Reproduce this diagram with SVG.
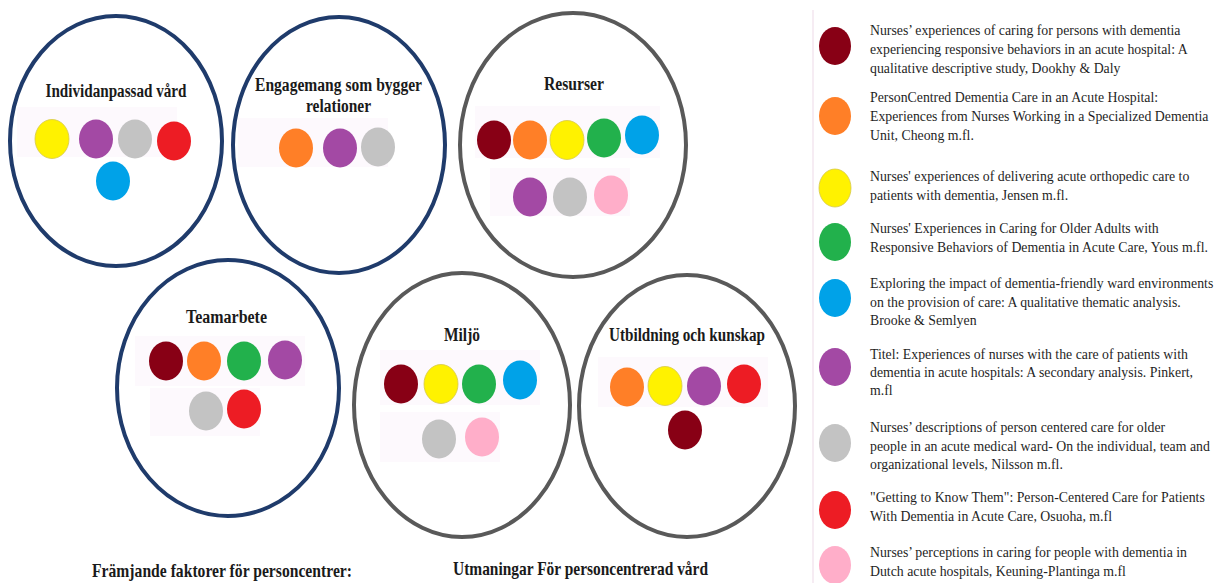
<svg xmlns="http://www.w3.org/2000/svg" width="1218" height="583" viewBox="0 0 1218 583">
  <style>
    .theme-blue { fill: #ffffff; stroke: #1f3b6b; stroke-width: 4; }
    .theme-gray { fill: #ffffff; stroke: #595959; stroke-width: 4; }
    .title { font-family: "Liberation Serif", "Times New Roman", serif; font-weight: bold; font-size: 18px; fill: #1a1a1a; text-anchor: middle; }
    .caption { font-family: "Liberation Serif", "Times New Roman", serif; font-weight: bold; font-size: 19px; fill: #1a1a1a; }
    .legend-text { font-family: "Liberation Serif", "Times New Roman", serif; font-size: 13.8px; fill: #1f1f1f; }
    .band { fill: #fdf9fd; }
    .c-darkred { fill: #880015; }
    .c-orange { fill: #ff7f27; }
    .c-yellow { fill: #fff200; stroke: #d6c84a; stroke-width: 0.8; }
    .c-green { fill: #22b14c; }
    .c-blue { fill: #00a2e8; }
    .c-purple { fill: #a349a4; }
    .c-gray { fill: #c3c3c3; }
    .c-red { fill: #ed1c24; }
    .c-pink { fill: #ffaec9; }
  </style>

  <rect x="0" y="0" width="1218" height="583" fill="#ffffff"/>

  <!-- Theme: Individanpassad vård -->
  <g id="individanpassad-vard">
    <ellipse class="theme-blue" cx="116" cy="141" rx="106" ry="125"/>
    <rect class="band" x="17" y="107" width="160" height="50"/>
    <text class="title" x="116" y="97" textLength="141" lengthAdjust="spacingAndGlyphs">Individanpassad vård</text>
    <ellipse class="c-yellow" cx="52" cy="139" rx="17" ry="19.5"/>
    <ellipse class="c-purple" cx="96" cy="139" rx="17" ry="19.5"/>
    <ellipse class="c-gray" cx="135" cy="139" rx="17" ry="19.5"/>
    <ellipse class="c-red" cx="174" cy="141" rx="17" ry="19.5"/>
    <ellipse class="c-blue" cx="113" cy="181" rx="17" ry="19.5"/>
  </g>

  <!-- Theme: Engagemang som bygger relationer -->
  <g id="engagemang">
    <ellipse class="theme-blue" cx="339" cy="145" rx="106" ry="128"/>
    <rect class="band" x="238" y="118" width="150" height="49"/>
    <text class="title" x="338.5" y="91" textLength="167" lengthAdjust="spacingAndGlyphs">Engagemang som bygger</text>
    <text class="title" x="338.5" y="112" textLength="65" lengthAdjust="spacingAndGlyphs">relationer</text>
    <ellipse class="c-orange" cx="296" cy="148" rx="17" ry="19.5"/>
    <ellipse class="c-purple" cx="340" cy="148" rx="17" ry="19.5"/>
    <ellipse class="c-gray" cx="378" cy="147" rx="17" ry="19.5"/>
  </g>

  <!-- Theme: Resurser -->
  <g id="resurser">
    <ellipse class="theme-gray" cx="573" cy="145" rx="113" ry="132"/>
    <rect class="band" x="475" y="106" width="185" height="52"/>
    <rect class="band" x="490" y="168" width="140" height="48"/>
    <text class="title" x="574" y="90" textLength="60" lengthAdjust="spacingAndGlyphs">Resurser</text>
    <ellipse class="c-darkred" cx="494" cy="140" rx="17" ry="19.5"/>
    <ellipse class="c-orange" cx="530" cy="140" rx="17" ry="19.5"/>
    <ellipse class="c-yellow" cx="567" cy="140" rx="17" ry="19.5"/>
    <ellipse class="c-green" cx="604" cy="138" rx="17" ry="19.5"/>
    <ellipse class="c-blue" cx="642" cy="135" rx="17" ry="19.5"/>
    <ellipse class="c-purple" cx="530" cy="197" rx="17" ry="19.5"/>
    <ellipse class="c-gray" cx="570" cy="197" rx="17" ry="19.5"/>
    <ellipse class="c-pink" cx="611" cy="195" rx="17" ry="19.5"/>
  </g>

  <!-- Theme: Teamarbete -->
  <g id="teamarbete">
    <ellipse class="theme-blue" cx="228" cy="388" rx="111" ry="128"/>
    <rect class="band" x="135" y="336" width="170" height="50"/>
    <rect class="band" x="150" y="388" width="110" height="48"/>
    <text class="title" x="226.5" y="323" textLength="81" lengthAdjust="spacingAndGlyphs">Teamarbete</text>
    <ellipse class="c-darkred" cx="166" cy="361" rx="17" ry="19.5"/>
    <ellipse class="c-orange" cx="204" cy="361" rx="17" ry="19.5"/>
    <ellipse class="c-green" cx="244" cy="361" rx="17" ry="19.5"/>
    <ellipse class="c-purple" cx="285" cy="360" rx="17" ry="19.5"/>
    <ellipse class="c-gray" cx="206" cy="411" rx="17" ry="19.5"/>
    <ellipse class="c-red" cx="244" cy="409" rx="17" ry="19.5"/>
  </g>

  <!-- Theme: Miljö -->
  <g id="miljo">
    <ellipse class="theme-gray" cx="462" cy="405" rx="108" ry="132"/>
    <rect class="band" x="380" y="350" width="160" height="55"/>
    <rect class="band" x="380" y="412" width="120" height="50"/>
    <text class="title" x="462" y="341" textLength="36" lengthAdjust="spacingAndGlyphs">Miljö</text>
    <ellipse class="c-darkred" cx="401" cy="384" rx="17" ry="19.5"/>
    <ellipse class="c-yellow" cx="441" cy="384" rx="17" ry="19.5"/>
    <ellipse class="c-green" cx="479" cy="384" rx="17" ry="19.5"/>
    <ellipse class="c-blue" cx="520" cy="380" rx="17" ry="19.5"/>
    <ellipse class="c-gray" cx="439" cy="439" rx="17" ry="19.5"/>
    <ellipse class="c-pink" cx="482" cy="437" rx="17" ry="19.5"/>
  </g>

  <!-- Theme: Utbildning och kunskap -->
  <g id="utbildning">
    <ellipse class="theme-gray" cx="687" cy="406" rx="108" ry="131"/>
    <rect class="band" x="598" y="357" width="170" height="50"/>
    <text class="title" x="687" y="341" textLength="156" lengthAdjust="spacingAndGlyphs">Utbildning och kunskap</text>
    <ellipse class="c-orange" cx="627" cy="387" rx="17" ry="19.5"/>
    <ellipse class="c-yellow" cx="665" cy="386" rx="17" ry="19.5"/>
    <ellipse class="c-purple" cx="704" cy="386" rx="17" ry="19.5"/>
    <ellipse class="c-red" cx="744" cy="384" rx="17" ry="19.5"/>
    <ellipse class="c-darkred" cx="685" cy="430" rx="17" ry="19.5"/>
  </g>

  <!-- Group captions -->
  <g id="captions">
    <text class="caption" x="92" y="577" textLength="260" lengthAdjust="spacingAndGlyphs">Främjande faktorer för personcentrer:</text>
    <text class="caption" x="453" y="575" textLength="255" lengthAdjust="spacingAndGlyphs">Utmaningar För personcentrerad vård</text>
  </g>

  <!-- Legend: one colour per study -->
  <g id="legend">
    <line x1="813" y1="10" x2="813" y2="583" stroke="#f6ecf3" stroke-width="2"/>
    <g id="legend-dookhy">
      <ellipse class="c-darkred" cx="835" cy="46" rx="16" ry="19"/>
      <text class="legend-text" x="870" y="35">Nurses’ experiences of caring for persons with dementia</text>
      <text class="legend-text" x="870" y="54">experiencing responsive behaviors in an acute hospital: A</text>
      <text class="legend-text" x="870" y="73">qualitative descriptive study, Dookhy &amp; Daly</text>
    </g>
    <g id="legend-cheong">
      <ellipse class="c-orange" cx="835" cy="116" rx="16" ry="19"/>
      <text class="legend-text" x="870" y="102">PersonCentred Dementia Care in an Acute Hospital:</text>
      <text class="legend-text" x="870" y="121">Experiences from Nurses Working in a Specialized Dementia</text>
      <text class="legend-text" x="870" y="140">Unit, Cheong m.fl.</text>
    </g>
    <g id="legend-jensen">
      <ellipse class="c-yellow" cx="835" cy="188" rx="16" ry="19"/>
      <text class="legend-text" x="870" y="181">Nurses' experiences of delivering acute orthopedic care to</text>
      <text class="legend-text" x="870" y="200">patients with dementia, Jensen m.fl.</text>
    </g>
    <g id="legend-yous">
      <ellipse class="c-green" cx="835" cy="242" rx="16" ry="19"/>
      <text class="legend-text" x="870" y="233">Nurses' Experiences in Caring for Older Adults with</text>
      <text class="legend-text" x="870" y="252">Responsive Behaviors of Dementia in Acute Care, Yous m.fl.</text>
    </g>
    <g id="legend-brooke">
      <ellipse class="c-blue" cx="835" cy="298" rx="16" ry="19"/>
      <text class="legend-text" x="870" y="288">Exploring the impact of dementia-friendly ward environments</text>
      <text class="legend-text" x="870" y="307">on the provision of care: A qualitative thematic analysis.</text>
      <text class="legend-text" x="870" y="325">Brooke &amp; Semlyen</text>
    </g>
    <g id="legend-pinkert">
      <ellipse class="c-purple" cx="835" cy="367" rx="16" ry="19"/>
      <text class="legend-text" x="870" y="359">Titel: Experiences of nurses with the care of patients with</text>
      <text class="legend-text" x="870" y="377">dementia in acute hospitals: A secondary analysis. Pinkert,</text>
      <text class="legend-text" x="870" y="395">m.fl</text>
    </g>
    <g id="legend-nilsson">
      <ellipse class="c-gray" cx="835" cy="443" rx="16" ry="19"/>
      <text class="legend-text" x="870" y="432">Nurses’ descriptions of person centered care for older</text>
      <text class="legend-text" x="870" y="451">people in an acute medical ward- On the individual, team and</text>
      <text class="legend-text" x="870" y="469">organizational levels, Nilsson m.fl.</text>
    </g>
    <g id="legend-osuoha">
      <ellipse class="c-red" cx="835" cy="510" rx="16" ry="19"/>
      <text class="legend-text" x="870" y="502">"Getting to Know Them": Person-Centered Care for Patients</text>
      <text class="legend-text" x="870" y="521">With Dementia in Acute Care, Osuoha, m.fl</text>
    </g>
    <g id="legend-keuning">
      <ellipse class="c-pink" cx="835" cy="565" rx="16" ry="19"/>
      <text class="legend-text" x="870" y="557">Nurses’ perceptions in caring for people with dementia in</text>
      <text class="legend-text" x="870" y="576">Dutch acute hospitals, Keuning-Plantinga m.fl</text>
    </g>
  </g>

  <!-- No connectors in this figure -->
  <g id="connectors"/>
</svg>
